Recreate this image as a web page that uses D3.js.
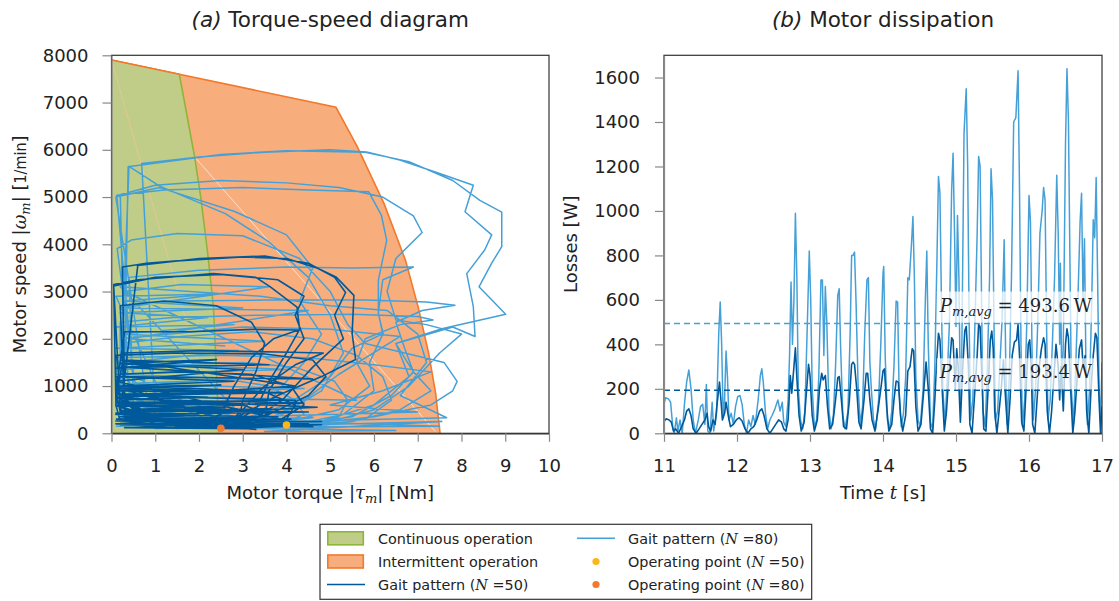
<!DOCTYPE html>
<html>
<head>
<meta charset="utf-8">
<script src="https://cdn.jsdelivr.net/npm/d3@7"></script>
<style>
    body { margin: 0; background: #fff; }
    text { font-family: "DejaVu Sans", sans-serif; fill: #222; }
    .math { font-family: "DejaVu Serif", serif; font-style: italic; }
    .upr { font-family: "DejaVu Serif", serif; font-style: normal; }
</style>
</head>
<body>
<div id="chart"></div>
<script>
// ---- data ----
var torqueTicks = [0, 1, 2, 3, 4, 5, 6, 7, 8, 9, 10];
var speedTicks  = [0, 1000, 2000, 3000, 4000, 5000, 6000, 7000, 8000];
var timeTicks   = [11, 12, 13, 14, 15, 16, 17];
var lossTicks   = [0, 200, 400, 600, 800, 1000, 1200, 1400, 1600];

// motor limits [torque Nm, speed 1/min]
var limitIntermittent = [[0, 7900], [1.55, 7600], [5.13, 6900], [5.62, 6060], [6.23, 4860], [6.72, 3660],
    [7.01, 2670], [7.25, 1690], [7.41, 840], [7.51, 0]];
var limitContinuous = [[0, 7900], [1.55, 7600], [1.90, 5850], [2.04, 5000], [2.20, 3800], [2.33, 2670],
    [2.38, 1690], [2.42, 800], [2.44, 0]];
// faint rendering seams inside the regions
var seamOrange = [[0, 7900], [2.44, 0]];
var seamWhite  = [[1.9, 5850], [7.4, 40]];

// gait pattern N=80 (torque, speed)
var gait80 = [
    [0.1,150],[1.5,180],[3.2,300],[4.6,330],[3.8,250],[2.0,120],[0.3,300],
    [0.2,900],[1.2,1050],[2.6,1150],[3.6,1000],[4.2,700],[4.4,400],[3.9,200],[2.5,150],[1.0,250],[0.2,600],
    [0.3,1350],[1.5,1450],[3.0,1500],[4.2,1400],[5.1,1100],[5.4,700],[5.2,350],[4.5,150],[3.0,100],[1.4,180],[0.3,450],
    [0.2,1900],[1.6,2050],[3.2,2150],[4.6,2000],[5.6,1650],[6.2,1200],[6.4,700],[5.8,300],[4.6,120],[3.0,150],[1.6,300],[0.4,700],
    [0.3,2700],[1.5,2800],[3.5,2820],[5.8,2820],[7.2,2780],[7.85,2710],[7.1,2600],[6.5,2350],[6.7,1800],[6.9,1300],[7.3,900],[6.6,500],[5.5,250],[4.0,150],[2.6,230],[1.0,500],[0.2,1000],
    [0.2,2350],[1.4,2450],[3.4,2500],[5.5,2520],[7.0,2470],[7.35,2400],[6.6,2300],[5.8,2000],[5.6,1500],[5.9,1000],[5.2,500],[3.8,200],[2.0,250],[0.5,650],
    [0.4,3300],[2.0,3450],[4.0,3520],[5.5,3500],[6.9,3520],[6.2,3250],[6.1,2550],[6.2,2100],[5.9,1500],[6.0,900],[5.3,400],[4.0,150],[2.2,200],[0.6,600],
    [0.13,3910],[0.45,4090],[1.5,4230],[3.0,4180],[4.3,3700],[5.0,3000],[5.4,2300],[5.8,1900],[7.6,1500],[7.9,1100],[7.8,900],[7.3,600],[6.0,350],[4.5,200],[3.0,300],[1.5,600],[0.3,1200],
    [0.2,5050],[1.0,5250],[2.5,5350],[4.0,5300],[5.2,5200],[6.2,5000],[6.9,4600],[7.1,4250],[6.5,3700],[6.3,3000],[6.5,2400],[7.2,2300],[8.0,2100],[7.5,1700],[6.8,1000],[6.0,500],[4.8,200],[3.2,200],[1.8,500],[0.5,1100],
    [0.12,5040],[1.2,5150],[3.0,5200],[4.5,5150],[5.88,5110],[6.17,4610],[6.29,4085],[6.1,3240],[6.1,2530],[6.21,2110],[5.5,1800],[5.0,1200],[4.0,600],[2.8,250],[1.3,350],[0.2,900],
    [0.4,5650],[1.1,5230],[2.6,4650],[3.6,4050],[4.5,3300],[5.0,2500],[5.3,1700],[4.8,900],[3.8,350],[2.5,150],[1.0,400],
    [0.69,5710],[2.0,5850],[3.5,5950],[5.0,6000],[5.83,5955],[6.59,5785],[7.5,5500],[8.27,5250],[8.08,4690],[8.69,4200],[8.53,3880],[8.12,3380],[8.27,2680],[8.31,2050],[7.8,2250],[6.5,1900],[6.8,1200],[6.0,600],[4.6,200],[3.0,300],[1.6,700],[0.3,1300],
    [0.38,5640],[1.5,5780],[2.5,5900],[4.0,5980],[5.8,5950],[6.8,5750],[7.8,5350],[8.42,4930],[8.92,4680],[8.92,3950],[8.69,3600],[8.4,3100],[9.01,2520],[7.5,2200],[6.5,1900],[6.9,1300],[6.4,800],[5.5,350],[4.0,150],[2.2,300],[0.8,800],
    [0.1,5000],[1.1,5200],[2.8,4700],[4.0,4200],[4.6,3500],[4.3,2800],[4.8,2100],[4.4,1500],[3.8,900],[3.4,400],[3.2,150],
    [0.2,3100],[1.8,3000],[3.4,2900],[5.0,2700],[6.3,2600],[7.0,2100],[7.2,1500],[6.6,800],[7.66,330],[4.0,250],[7.5,150],[2.0,120],[6.5,60],[3.5,40],[7.55,250],[1.0,100],
    [0.1,1600],[2.5,1650],[4.5,1600],[6.0,1450],[7.3,1300],[6.2,900],[5.0,600],[7.0,450],[3.0,350],[0.3,300],
    [0.2,2000],[3.0,2250],[5.0,2200],[6.6,2050],[5.2,1250],[4.4,700],[3.5,250],[1.5,100],
    [0.1,2900],[2.4,2950],[0.3,2800],[3.0,2650],[0.2,2550],[2.2,2450],[0.1,2250],[2.8,2300],[0.2,2100],[3.5,1950],
    [0.1,1800],[2.9,1750],[0.3,1500],[4.0,1350],[0.1,1250],[3.2,1150],[0.2,1050],[4.4,950],[0.1,800],[5.6,700],
    [0.3,3000],[1.6,3150],[3.6,3100],[0.2,2650],[4.5,2600],[0.4,2000],[2.6,1850]
];

// gait pattern N=50 (torque, speed)
var gait50 = [
    [0.1,300],[2.2,250],[4.5,200],[3.0,150],[0.5,120],[1.8,200],[4.8,180],[2.5,100],[0.2,250],
    [0.1,600],[1.5,650],[3.0,600],[3.6,400],[3.2,150],[1.0,200],[0.2,450],
    [0.1,900],[1.8,950],[3.5,880],[4.2,600],[4.0,300],[3.0,120],[1.2,250],[0.1,700],
    [0.2,1250],[1.5,1300],[3.2,1250],[4.1,1000],[4.4,600],[3.8,250],[2.5,100],[0.8,300],[0.1,800],
    [0.3,1700],[2.0,1750],[3.8,1720],[4.84,1700],[4.2,1450],[3.5,1000],[3.0,500],[2.6,150],[1.0,250],[0.1,600],
    [0.1,1650],[1.5,1700],[3.5,1680],[4.6,1550],[4.9,1200],[4.5,800],[3.6,400],[2.4,150],[0.8,350],[0.1,900],
    [0.3,2150],[1.8,2150],[3.2,2200],[4.27,2185],[3.7,2000],[3.2,1600],[2.8,1000],[2.5,400],[1.6,150],[0.3,500],
    [0.2,2700],[1.2,2800],[2.4,2700],[3.2,2350],[3.5,1900],[3.3,1300],[3.0,700],[2.9,200],[1.4,200],[0.1,700],
    [0.05,3150],[0.6,3250],[2.33,3380],[3.3,3300],[3.63,3100],[4.24,2670],[4.3,2200],[4.0,1700],[3.6,1100],[3.3,500],[2.6,150],[1.2,250],[0.3,700],
    [0.25,3520],[0.8,3600],[1.5,3650],[3.0,3730],[4.0,3700],[4.7,3500],[5.13,3310],[5.54,2920],[5.5,2110],[5.58,1560],[4.8,1200],[3.8,800],[3.0,400],[2.2,150],[1.0,200],[0.2,500],
    [0.05,3120],[1.0,3300],[2.5,3360],[3.8,3250],[4.4,2900],[4.2,2500],[4.4,2000],[4.0,1500],[3.6,900],[3.5,300],[2.0,120],[0.2,400],
    [0.6,3550],[2.0,3700],[3.5,3750],[4.5,3600],[5.1,3300],[5.35,2980],[5.1,2500],[5.3,2000],[4.6,1400],[3.9,700],[3.1,200],[1.5,150],[0.1,600],
    [0.1,900],[3.5,850],[0.2,800],[4.2,700],[0.1,650],[3.0,600],[0.3,500],[4.5,450],[0.1,400],[3.8,350],[0.2,300],[4.8,250],
    [0.1,200],[4.0,150],[0.3,120],[3.2,100],[0.2,1000],[2.8,1100],[0.1,1200],[4.6,1150],[0.3,1400],[3.6,1450],[0.2,1550],
    [4.2,1000],[0.1,750],[4.7,550],[0.2,350],[3.3,80],
    [0.1,980],[2.5,1020],[0.2,940],[3.9,860],[0.1,830],[2.2,760],[0.3,720],[4.4,640],[0.1,580],[2.6,540],[0.2,470],
    [3.6,520],[0.1,430],[2.0,380],[0.3,330],[4.1,300],[0.1,260],[2.9,220],[0.2,180],[4.6,140],[0.1,1100],[3.0,1350],
    [0.2,1480],[2.4,1560],[0.1,1380]
];

// operating points
var operatingPoints = [
    { name: 'N50', torque: 4.0, speed: 176 },
    { name: 'N80', torque: 2.5, speed: 106 }
];

// losses over time [s, W]
var losses80 = [
    [11.00,130],[11.02,160],[11.06,155],[11.09,140],[11.12,30],[11.14,0],[11.17,70],[11.19,10],[11.22,60],[11.25,0],
    [11.28,130],[11.31,230],[11.34,285],[11.37,200],[11.40,60],[11.43,0],[11.47,60],[11.50,120],[11.53,130],[11.56,40],
    [11.58,220],[11.60,10],[11.63,0],[11.66,140],[11.68,10],[11.72,90],[11.75,450],[11.77,590],[11.79,400],[11.81,80],
    [11.83,150],[11.85,370],[11.87,250],[11.89,60],[11.92,90],[11.95,40],[11.98,120],[12.01,165],[12.04,170],[12.07,130],
    [12.10,40],[12.13,0],[12.16,60],[12.19,30],[12.22,80],[12.25,40],[12.29,150],[12.32,260],[12.34,290],[12.36,230],
    [12.39,90],[12.42,20],[12.45,60],[12.48,80],[12.52,110],[12.56,150],[12.59,100],[12.62,140],[12.64,50],[12.67,30],
    [12.70,150],[12.72,350],[12.74,680],[12.76,400],[12.78,600],[12.80,990],[12.82,700],[12.84,200],[12.87,60],[12.90,20],
    [12.93,100],[12.96,450],[12.99,820],[13.01,600],[13.03,200],[13.06,30],[13.09,60],[13.12,250],[13.15,690],[13.17,690],
    [13.19,350],[13.21,660],[13.23,500],[13.26,100],[13.29,20],[13.32,80],[13.35,300],[13.38,620],[13.40,650],[13.42,380],
    [13.45,80],[13.48,20],[13.52,100],[13.55,450],[13.57,800],[13.59,800],[13.61,815],[13.63,600],[13.66,200],[13.69,40],
    [13.72,120],[13.75,450],[13.78,690],[13.80,700],[13.82,320],[13.84,200],[13.87,60],[13.90,20],[13.94,150],[13.97,400],
    [14.00,720],[14.01,750],[14.03,350],[14.06,60],[14.09,20],[14.12,100],[14.15,300],[14.18,595],[14.20,590],[14.22,200],
    [14.25,30],[14.28,90],[14.31,250],[14.34,700],[14.36,690],[14.39,850],[14.41,975],[14.43,700],[14.45,250],[14.48,60],
    [14.51,30],[14.55,200],[14.58,600],[14.60,820],[14.62,400],[14.65,50],[14.68,20],[14.71,300],[14.74,800],[14.76,1155],
    [14.78,1080],[14.80,600],[14.82,200],[14.85,40],[14.88,250],[14.91,500],[14.94,1090],[14.96,1260],[14.98,900],[15.00,480],
    [15.02,980],[15.04,700],[15.06,150],[15.08,380],[15.11,1350],[15.14,1550],[15.16,1200],[15.18,500],[15.20,60],[15.23,150],
    [15.26,500],[15.29,900],[15.31,1245],[15.33,1200],[15.35,600],[15.37,100],[15.40,30],[15.43,300],[15.46,700],[15.48,1190],
    [15.50,1050],[15.52,500],[15.54,60],[15.57,100],[15.60,300],[15.63,500],[15.66,870],[15.68,350],[15.70,40],[15.73,250],
    [15.76,700],[15.79,1400],[15.82,1420],[15.85,1630],[15.87,1100],[15.89,400],[15.91,30],[15.94,150],[15.97,500],[16.00,1070],
    [16.02,950],[16.04,400],[16.06,60],[16.09,200],[16.12,500],[16.15,900],[16.18,1000],[16.20,1105],[16.22,1050],[16.24,500],
    [16.26,60],[16.29,150],[16.32,400],[16.35,700],[16.38,1160],[16.40,900],[16.42,400],[16.43,765],[16.45,200],[16.47,400],
    [16.50,1300],[16.52,1640],[16.54,1410],[16.56,800],[16.58,200],[16.61,40],[16.64,300],[16.67,600],[16.70,950],[16.72,1080],
    [16.74,600],[16.76,875],[16.78,300],[16.80,40],[16.83,200],[16.86,600],[16.88,960],[16.90,880],[16.92,1150],[16.94,700],
    [16.96,200],[16.98,50],[17.00,320]
];
var losses50 = [
    [11.00,55],[11.03,65],[11.07,60],[11.10,50],[11.13,10],[11.16,20],[11.20,0],[11.24,30],[11.28,60],[11.31,100],
    [11.34,110],[11.37,80],[11.40,20],[11.44,0],[11.48,20],[11.52,40],[11.56,60],[11.59,90],[11.61,30],[11.64,10],
    [11.67,60],[11.70,40],[11.73,140],[11.76,230],[11.78,150],[11.80,60],[11.83,90],[11.85,140],[11.88,80],[11.91,30],
    [11.95,40],[11.99,60],[12.03,70],[12.07,55],[12.11,20],[12.15,0],[12.19,20],[12.23,30],[12.27,60],[12.31,100],
    [12.34,110],[12.37,80],[12.41,20],[12.45,0],[12.49,20],[12.53,40],[12.57,60],[12.61,50],[12.64,20],[12.67,10],
    [12.70,60],[12.73,260],[12.75,180],[12.78,300],[12.80,385],[12.82,250],[12.85,80],[12.88,10],[12.92,50],[12.95,180],
    [12.98,310],[13.00,260],[13.03,80],[13.06,10],[13.10,60],[13.13,200],[13.16,270],[13.18,240],[13.21,260],[13.24,120],
    [13.27,20],[13.31,40],[13.35,150],[13.38,250],[13.40,255],[13.43,150],[13.46,30],[13.50,20],[13.54,150],[13.57,310],
    [13.59,320],[13.61,310],[13.64,200],[13.67,50],[13.70,20],[13.74,150],[13.77,270],[13.79,270],[13.82,150],[13.85,60],
    [13.89,10],[13.93,100],[13.97,200],[14.00,280],[14.02,290],[14.05,120],[14.08,10],[14.12,40],[14.15,150],[14.18,235],
    [14.21,230],[14.24,80],[14.27,10],[14.31,80],[14.34,280],[14.37,300],[14.40,380],[14.42,370],[14.45,120],[14.48,10],
    [14.52,40],[14.56,200],[14.59,320],[14.62,200],[14.65,20],[14.68,0],[14.71,150],[14.74,350],[14.76,450],[14.78,420],
    [14.81,200],[14.84,10],[14.87,100],[14.90,250],[14.94,430],[14.96,420],[14.99,200],[15.01,380],[15.03,300],[15.06,50],
    [15.09,280],[15.12,460],[15.14,480],[15.17,300],[15.19,40],[15.22,0],[15.25,150],[15.29,350],[15.31,490],[15.33,480],
    [15.36,200],[15.38,20],[15.41,10],[15.44,200],[15.47,420],[15.49,460],[15.51,380],[15.53,100],[15.56,0],[15.59,100],
    [15.62,200],[15.65,330],[15.68,150],[15.71,0],[15.74,150],[15.77,350],[15.80,410],[15.83,420],[15.85,490],[15.87,350],
    [15.90,50],[15.93,10],[15.96,200],[15.99,400],[16.01,420],[16.03,300],[16.05,40],[16.08,0],[16.11,150],[16.14,300],
    [16.17,380],[16.20,430],[16.22,400],[16.25,100],[16.28,0],[16.31,100],[16.34,250],[16.37,400],[16.40,300],[16.42,150],
    [16.44,300],[16.47,100],[16.50,400],[16.52,470],[16.54,430],[16.57,200],[16.60,0],[16.63,100],[16.66,250],[16.69,380],
    [16.72,420],[16.74,300],[16.77,350],[16.79,100],[16.82,0],[16.85,200],[16.88,350],[16.91,450],[16.93,430],[16.96,150],
    [16.98,0],[17.00,120]
];
var avgLoss80 = 493.6;
var avgLoss50 = 193.4;

(function(){
    var WIDTH  = 1119,
        HEIGHT = 601,

        A_LEFT = 111.5, A_RIGHT = 549,    // torque-speed plot
        B_LEFT = 664,   B_RIGHT = 1102,   // dissipation plot
        TOP    = 55.3,  BOTTOM  = 433.3,

        C_LIGHT  = '#45a0d8',
        C_DARK   = '#00599a',
        C_GREEN  = '#bfcd88', C_GREEN_LINE  = '#8fb43a',
        C_ORANGE = '#f8ae7c', C_ORANGE_LINE = '#f2782a',
        C_YELLOW = '#fbb61c', C_ORANGE_DOT  = '#f07a2e',
        C_TEXT   = '#222',
        C_TICK   = '#888';

    var svg = d3.select('#chart').append('svg')
        .attr('width', WIDTH)
        .attr('height', HEIGHT);

    var defs = svg.append('defs');
    defs.append('clipPath').attr('id', 'clipA').append('rect')
        .attr('x', A_LEFT).attr('y', TOP).attr('width', A_RIGHT - A_LEFT).attr('height', BOTTOM - TOP);
    defs.append('clipPath').attr('id', 'clipB').append('rect')
        .attr('x', B_LEFT).attr('y', TOP - 2).attr('width', B_RIGHT - B_LEFT).attr('height', BOTTOM - TOP + 2);

    // scales
    var xA = d3.scaleLinear().domain([0, 10]).range([A_LEFT, A_RIGHT]);
    var yA = d3.scaleLinear().domain([0, 8000]).range([BOTTOM, TOP]);
    var xB = d3.scaleLinear().domain([11, 17]).range([B_LEFT, B_RIGHT]);
    var yB = d3.scaleLinear().domain([0, 1700]).range([BOTTOM, TOP]);

    var lineA = d3.line().x(function(d){ return xA(d[0]); }).y(function(d){ return yA(d[1]); });
    var lineB = d3.line().x(function(d){ return xB(d[0]); }).y(function(d){ return yB(d[1]); });

    // ---- (a) torque-speed ----
    var gA = svg.append('g').attr('clip-path', 'url(#clipA)');

    gA.append('path')
        .attr('d', lineA(limitIntermittent.concat([[0, 0]])) + 'Z')
        .attr('fill', C_ORANGE);
    gA.append('path')
        .attr('d', lineA(limitIntermittent))
        .attr('fill', 'none').attr('stroke', C_ORANGE_LINE).attr('stroke-width', 1.6);
    gA.append('path')
        .attr('d', lineA(limitContinuous.concat([[0, 0]])) + 'Z')
        .attr('fill', C_GREEN);
    gA.append('path')
        .attr('d', lineA(limitContinuous.slice(1)))
        .attr('fill', 'none').attr('stroke', C_GREEN_LINE).attr('stroke-width', 1.6);
    gA.append('path')
        .attr('d', lineA(limitIntermittent.slice(0, 2)))
        .attr('fill', 'none').attr('stroke', C_ORANGE_LINE).attr('stroke-width', 1.6);
    gA.append('path')
        .attr('d', lineA(seamOrange))
        .attr('fill', 'none').attr('stroke', '#f2c49a').attr('stroke-width', 0.7);
    gA.append('path')
        .attr('d', lineA(seamWhite))
        .attr('fill', 'none').attr('stroke', '#fff').attr('stroke-width', 0.7).attr('opacity', 0.9);

    gA.append('path')
        .attr('d', lineA(gait80))
        .attr('fill', 'none').attr('stroke', C_LIGHT).attr('stroke-width', 1.5)
        .attr('stroke-linejoin', 'round');
    gA.append('path')
        .attr('d', lineA(gait50))
        .attr('fill', 'none').attr('stroke', C_DARK).attr('stroke-width', 1.6)
        .attr('stroke-linejoin', 'round');

    gA.selectAll('circle.op')
        .data(operatingPoints)
        .enter().append('circle')
        .attr('class', 'op')
        .attr('cx', function(d){ return xA(d.torque); })
        .attr('cy', function(d){ return yA(d.speed); })
        .attr('r', 3.8)
        .attr('fill', function(d){ return d.name === 'N50' ? C_YELLOW : C_ORANGE_DOT; });

    // ---- (b) dissipation ----
    var gB = svg.append('g').attr('clip-path', 'url(#clipB)');

    gB.append('path')
        .attr('d', lineB(losses80))
        .attr('fill', 'none').attr('stroke', C_LIGHT).attr('stroke-width', 1.5)
        .attr('stroke-linejoin', 'round');
    gB.append('path')
        .attr('d', lineB(losses50))
        .attr('fill', 'none').attr('stroke', C_DARK).attr('stroke-width', 1.6)
        .attr('stroke-linejoin', 'round');

    [[avgLoss80, C_LIGHT], [avgLoss50, C_DARK]].forEach(function(a){
        svg.append('line')
            .attr('x1', B_LEFT).attr('x2', B_RIGHT)
            .attr('y1', yB(a[0])).attr('y2', yB(a[0]))
            .attr('stroke', a[1]).attr('stroke-width', 1.4)
            .attr('stroke-dasharray', '6,4');

        var label = svg.append('text')
            .attr('x', B_RIGHT - 10)
            .attr('y', yB(a[0]) - 12)
            .attr('text-anchor', 'end')
            .style('font-size', '18px');
        label.append('tspan').attr('class', 'math').text('P');
        label.append('tspan').attr('class', 'math').attr('dy', 4).style('font-size', '13px').text('m,avg');
        label.append('tspan').attr('class', 'upr').attr('dy', -4).text(' = ' + a[0].toFixed(1) + '\u2009W');

        var bb = label.node().getBBox();
        svg.insert('rect', function(){ return label.node(); })
            .attr('x', bb.x - 2).attr('y', yB(a[0]) - 32)
            .attr('width', bb.width + 4).attr('height', 31)
            .attr('fill', '#fff').attr('opacity', 0.72);
    });

    // ---- frames and axes ----
    function frame(x0, x1){
        svg.append('rect')
            .attr('x', x0).attr('y', TOP)
            .attr('width', x1 - x0).attr('height', BOTTOM - TOP)
            .attr('fill', 'none').attr('stroke', '#333').attr('stroke-width', 1.2);
    }
    frame(A_LEFT, A_RIGHT);
    frame(B_LEFT, B_RIGHT);

    function styleAxis(g, domainColor){
        g.select('.domain').attr('stroke', domainColor).attr('stroke-width', 1.2);
        g.selectAll('.tick line').attr('stroke', C_TICK).attr('stroke-width', 1.2);
        g.selectAll('.tick text')
            .attr('fill', C_TEXT)
            .style('font-family', '"DejaVu Sans", sans-serif')
            .style('font-size', '18px');
    }
    var fmt = d3.format('d');

    styleAxis(svg.append('g')
        .attr('transform', 'translate(0,' + BOTTOM + ')')
        .call(d3.axisBottom(xA).tickValues(torqueTicks).tickFormat(fmt).tickSize(8.5).tickPadding(17).tickSizeOuter(0)), '#333');
    styleAxis(svg.append('g')
        .attr('transform', 'translate(' + A_LEFT + ',0)')
        .call(d3.axisLeft(yA).tickValues(speedTicks).tickFormat(fmt).tickSize(9).tickPadding(14).tickSizeOuter(0)), C_TICK);
    styleAxis(svg.append('g')
        .attr('transform', 'translate(0,' + BOTTOM + ')')
        .call(d3.axisBottom(xB).tickValues(timeTicks).tickFormat(fmt).tickSize(8.5).tickPadding(17).tickSizeOuter(0)), '#333');
    styleAxis(svg.append('g')
        .attr('transform', 'translate(' + B_LEFT + ',0)')
        .call(d3.axisLeft(yB).tickValues(lossTicks).tickFormat(fmt).tickSize(9).tickPadding(15).tickSizeOuter(0)), C_TICK);

    // ---- titles and axis labels ----
    function title(cx, letter, rest){
        var t = svg.append('text')
            .attr('x', cx).attr('y', 27)
            .attr('text-anchor', 'middle')
            .style('font-size', '21.5px');
        t.append('tspan').style('font-style', 'italic').text('(' + letter + ')');
        t.append('tspan').text(' ' + rest);
    }
    title((A_LEFT + A_RIGHT) / 2, 'a', 'Torque-speed diagram');
    title((B_LEFT + B_RIGHT) / 2, 'b', 'Motor dissipation');

    var xl = svg.append('text')
        .attr('x', (A_LEFT + A_RIGHT) / 2).attr('y', 499)
        .attr('text-anchor', 'middle').style('font-size', '18px');
    xl.append('tspan').text('Motor torque |');
    xl.append('tspan').attr('class', 'math').text('\u03c4');
    xl.append('tspan').attr('class', 'math').attr('dy', 4).style('font-size', '13px').text('m');
    xl.append('tspan').attr('dy', -4).text('| [Nm]');

    var yl = svg.append('text')
        .attr('transform', 'translate(25.5,' + (TOP + BOTTOM) / 2 + ') rotate(-90)')
        .attr('text-anchor', 'middle').style('font-size', '18px');
    yl.append('tspan').text('Motor speed |');
    yl.append('tspan').attr('class', 'math').text('\u03c9');
    yl.append('tspan').attr('class', 'math').attr('dy', 4).style('font-size', '13px').text('m');
    yl.append('tspan').attr('dy', -4).text('| [');
    yl.append('tspan').style('font-size', '16px').style('font-family', '"DejaVu Sans Condensed", sans-serif').text('1/min');
    yl.append('tspan').text(']');

    svg.append('text')
        .attr('transform', 'translate(577,' + (TOP + BOTTOM) / 2 + ') rotate(-90)')
        .attr('text-anchor', 'middle').style('font-size', '18px')
        .text('Losses [W]');

    var tl = svg.append('text')
        .attr('x', (B_LEFT + B_RIGHT) / 2).attr('y', 499)
        .attr('text-anchor', 'middle').style('font-size', '18px');
    tl.append('tspan').text('Time ');
    tl.append('tspan').attr('class', 'math').text('t');
    tl.append('tspan').text(' [s]');

    // ---- legend ----
    var legend = svg.append('g');
    legend.append('rect')
        .attr('x', 320).attr('y', 524.3).attr('width', 491.7).attr('height', 75)
        .attr('fill', '#fff').attr('stroke', '#333').attr('stroke-width', 1.2);

    var ROWS = [538.3, 561.5, 584.5];
    var legendItems = [
        { col: 0, row: 0, kind: 'patch', fill: C_GREEN, stroke: C_GREEN_LINE, text: ['Continuous operation'] },
        { col: 0, row: 1, kind: 'patch', fill: C_ORANGE, stroke: C_ORANGE_LINE, text: ['Intermittent operation'] },
        { col: 0, row: 2, kind: 'line', stroke: C_DARK, text: ['Gait pattern (', 'N', ' =50)'] },
        { col: 1, row: 0, kind: 'line', stroke: C_LIGHT, text: ['Gait pattern (', 'N', ' =80)'] },
        { col: 1, row: 1, kind: 'dot', fill: C_YELLOW, text: ['Operating point (', 'N', ' =50)'] },
        { col: 1, row: 2, kind: 'dot', fill: C_ORANGE_DOT, text: ['Operating point (', 'N', ' =80)'] }
    ];
    var COL_X = [327, 577];
    legendItems.forEach(function(it){
        var x = COL_X[it.col], y = ROWS[it.row];
        if(it.kind === 'patch'){
            legend.append('rect')
                .attr('x', x + 0.8).attr('y', y - 6.5).attr('width', 35.5).attr('height', 13)
                .attr('fill', it.fill).attr('stroke', it.stroke).attr('stroke-width', 1.6);
        } else if(it.kind === 'line'){
            legend.append('line')
                .attr('x1', x).attr('x2', x + 38).attr('y1', y).attr('y2', y)
                .attr('stroke', it.stroke).attr('stroke-width', 1.6);
        } else {
            legend.append('circle')
                .attr('cx', x + 19).attr('cy', y).attr('r', 3.6).attr('fill', it.fill);
        }
        var t = legend.append('text')
            .attr('x', x + 51).attr('y', y + 5.2)
            .style('font-size', '14.4px');
        it.text.forEach(function(s, i){
            var sp = t.append('tspan').text(s);
            if(i === 1) sp.attr('class', 'math');
        });
    });
})();
</script>
</body>
</html>
